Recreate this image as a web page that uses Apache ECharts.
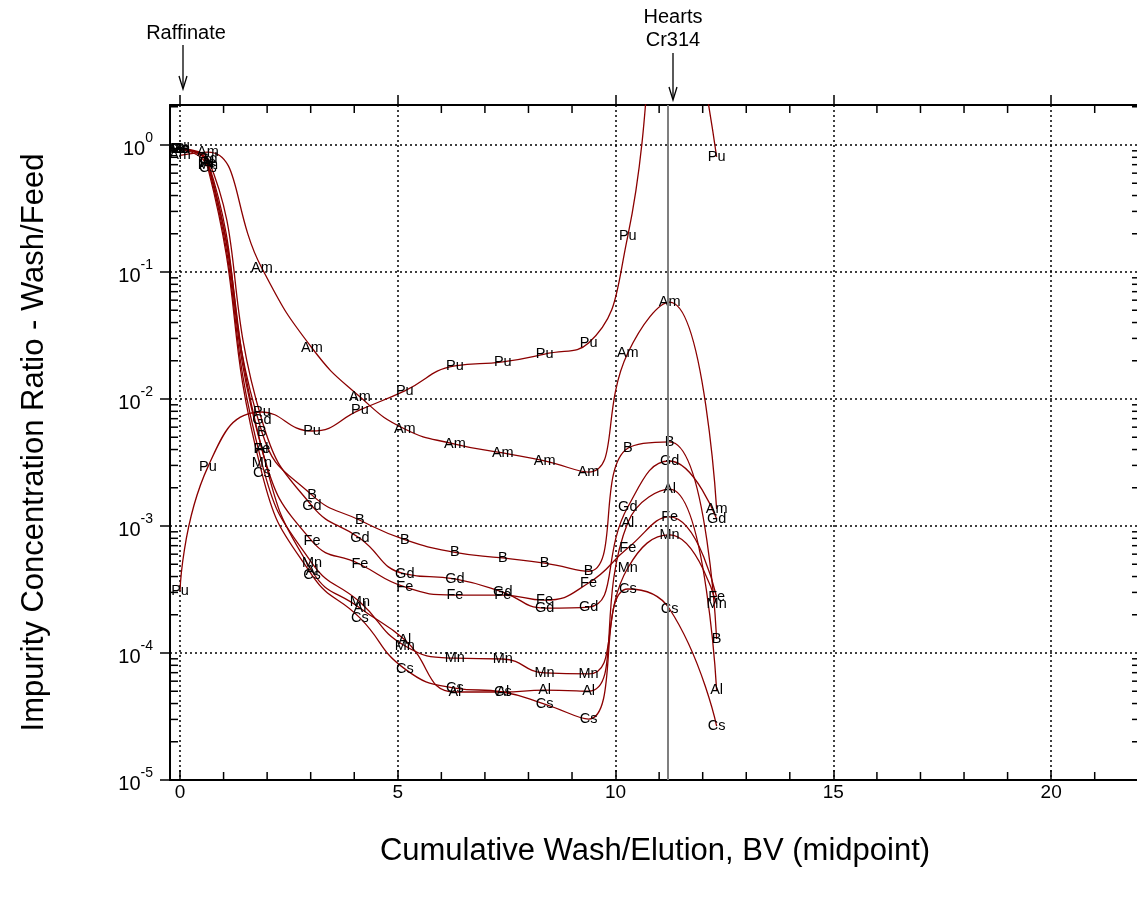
<!DOCTYPE html>
<html><head><meta charset="utf-8">
<script src="https://cdn.jsdelivr.net/npm/echarts@6/dist/echarts.min.js"></script>
<style>html,body{margin:0;padding:0;background:#fff}#c{width:1137px;height:900px}</style>
</head><body><div id="c"></div>
<script>
// Cumulative wash/elution (BV, midpoint) for each sample
const xBV = [0, 0.64, 1.88, 3.03, 4.13, 5.16, 6.31, 7.41, 8.37, 9.38, 10.28, 11.24, 12.32];
// Impurity concentration ratio (wash/feed) per element
const Pu = [3.08e-4, 2.92e-3, 7.9e-3, 5.6e-3, 8.2e-3, 1.16e-2, 1.82e-2, 1.96e-2, 2.26e-2, 2.76e-2, 0.192, 30, 0.805];
const Am = [0.83, 0.88, 0.107, 0.0252, 0.0104, 5.8e-3, 4.42e-3, 3.76e-3, 3.25e-3, 2.66e-3, 0.023, 0.058, 1.36e-3];
const B  = [0.93, 0.74, 5.5e-3, 1.75e-3, 1.11e-3, 7.8e-4, 6.2e-4, 5.6e-4, 5.1e-4, 4.4e-4, 4.1e-3, 4.6e-3, 1.29e-4];
const Gd = [0.93, 0.78, 6.8e-3, 1.44e-3, 8.0e-4, 4.2e-4, 3.83e-4, 3.02e-4, 2.26e-4, 2.30e-4, 1.41e-3, 3.25e-3, 1.14e-3];
const Fe = [0.93, 0.72, 4.04e-3, 7.6e-4, 5.0e-4, 3.31e-4, 2.86e-4, 2.86e-4, 2.61e-4, 3.56e-4, 6.7e-4, 1.18e-3, 2.76e-4];
const Mn = [0.93, 0.70, 3.13e-3, 5.1e-4, 2.52e-4, 1.14e-4, 9.1e-5, 8.97e-5, 6.97e-5, 6.84e-5, 4.67e-4, 8.5e-4, 2.43e-4];
const Al = [0.93, 0.72, 4.04e-3, 4.42e-4, 2.26e-4, 1.27e-4, 4.93e-5, 4.93e-5, 5.1e-5, 5.0e-5, 1.06e-3, 1.95e-3, 5.1e-5];
const Cs = [0.93, 0.66, 2.61e-3, 4.11e-4, 1.89e-4, 7.5e-5, 5.3e-5, 4.93e-5, 3.96e-5, 3.02e-5, 3.19e-4, 2.22e-4, 2.66e-5];
const seriesNames = ['Pu', 'Am', 'B', 'Gd', 'Fe', 'Mn', 'Al', 'Cs'];
const seriesValues = [Pu, Am, B, Gd, Fe, Mn, Al, Cs];
// Axis ticks
const xTicks = [0, 5, 10, 15, 20];
const yTicks = [1e-5, 1e-4, 1e-3, 1e-2, 1e-1, 1];
const heartsX = 11.19;

const FONT = '"Liberation Sans", Arial, sans-serif';
const LINE = '#8b0000';

const chart = echarts.init(document.getElementById('c'), null, {renderer: 'canvas'});

// minor tick values (axis decoration)
const minorData = [];
for (let i = 1; i <= 22; i++) if (i % 5) minorData.push([i, 1, 0]);
for (let e = -5; e <= 0; e++) for (let k = 2; k <= 9; k++) {
  const v = k * Math.pow(10, e);
  if (v < 2.06) minorData.push([1, v, 1]);
}

const series = seriesNames.map((name, i) => ({
  name, type: 'line', smooth: 0.5,
  data: xBV.map((x, j) => [x, seriesValues[i][j]]),
  symbol: 'circle', symbolSize: 4,
  itemStyle: {color: 'rgba(0,0,0,0)', borderWidth: 0},
  lineStyle: {color: LINE, width: 1.3},
  label: {show: true, position: 'inside', formatter: name, color: '#000', fontSize: 14.5, fontFamily: FONT},
  emphasis: {disabled: true},
  clip: true, z: 3,
  markLine: i === 0 ? {
    silent: true, symbol: 'none', label: {show: false},
    lineStyle: {color: '#7f7f7f', width: 2, type: 'solid'},
    data: [{xAxis: heartsX}]
  } : undefined
}));

series.push({
  type: 'custom', silent: true, z: 2,
  data: minorData,
  encode: {x: 0, y: 1},
  renderItem: function (params, api) {
    const cs = params.coordSys;
    const kind = api.value(2);
    const st = {stroke: '#000', lineWidth: 1.5};
    const L = 8;
    if (kind === 0) {
      const px = api.coord([api.value(0), 1])[0];
      return {type: 'group', children: [
        {type: 'line', shape: {x1: px, y1: cs.y + cs.height, x2: px, y2: cs.y + cs.height - L}, style: st},
        {type: 'line', shape: {x1: px, y1: cs.y, x2: px, y2: cs.y + L}, style: st}
      ]};
    }
    const py = api.coord([1, api.value(1)])[1];
    return {type: 'group', children: [
      {type: 'line', shape: {x1: cs.x, y1: py, x2: cs.x + L, y2: py}, style: st},
      {type: 'line', shape: {x1: cs.x + cs.width, y1: py, x2: cs.x + cs.width - L, y2: py}, style: st}
    ]};
  }
});

const axisLineStyle = {color: '#000', width: 2};
const option = {
  backgroundColor: '#fff',
  animation: false,
  grid: {left: 170, top: 105, right: -3, bottom: 120, outerBoundsMode: 'none', containLabel: false},
  xAxis: [{
    type: 'value', position: 'bottom', min: -0.23, max: 22.04,
    axisLine: {show: true, onZero: false, lineStyle: axisLineStyle},
    axisTick: {show: true, inside: true, length: 10, lineStyle: {color: '#000', width: 1.5}, customValues: xTicks},
    axisLabel: {customValues: xTicks, color: '#000', fontSize: 19, fontFamily: FONT, margin: 3},
    splitLine: {show: true, lineStyle: {color: '#000', type: [2, 3], width: 1.5}},
    name: 'Cumulative Wash/Elution, BV (midpoint)', nameLocation: 'middle', nameGap: 56,
    nameTextStyle: {color: '#000', fontSize: 31, fontFamily: FONT}
  }, {
    type: 'value', position: 'top', min: -0.23, max: 22.04,
    axisLine: {show: true, onZero: false, lineStyle: axisLineStyle},
    axisTick: {show: true, inside: false, length: 10, lineStyle: {color: '#000', width: 1.5}, customValues: xTicks},
    axisLabel: {show: false, customValues: xTicks},
    splitLine: {show: false}
  }],
  yAxis: [{
    type: 'log', logBase: 10, min: 1e-5, max: 2.065, position: 'left',
    axisLine: {show: true, onZero: false, lineStyle: axisLineStyle},
    axisTick: {show: true, inside: false, length: 10, lineStyle: {color: '#000', width: 1.5}, customValues: yTicks},
    axisLabel: {
      customValues: yTicks, margin: 17, color: '#000', fontFamily: FONT,
      formatter: function (v) { const e = Math.round(Math.log10(v)); return '{b|10}{s|' + e + '}'; },
      rich: {
        b: {fontSize: 20, fontFamily: FONT, color: '#000', lineHeight: 28, verticalAlign: 'bottom'},
        s: {fontSize: 14, fontFamily: FONT, color: '#000', lineHeight: 28, verticalAlign: 'top'}
      }
    },
    splitLine: {show: true, lineStyle: {color: '#000', type: [2, 3], width: 1.5}},
    name: 'Impurity Concentration Ratio - Wash/Feed', nameLocation: 'middle', nameGap: 120,
    nameTextStyle: {color: '#000', fontSize: 31, fontFamily: FONT}
  }],
  graphic: [
    {type: 'text', x: 186, y: 33, style: {text: 'Raffinate', align: 'center', verticalAlign: 'middle', fontSize: 20, fontFamily: FONT, fill: '#000'}},
    {type: 'line', shape: {x1: 183, y1: 45, x2: 183, y2: 88}, style: {stroke: '#000', lineWidth: 1.3}},
    {type: 'polyline', shape: {points: [[179, 76], [183, 89], [187, 76]]}, style: {stroke: '#000', lineWidth: 1.3, fill: null}},
    {type: 'text', x: 673, y: 17, style: {text: 'Hearts', align: 'center', verticalAlign: 'middle', fontSize: 20, fontFamily: FONT, fill: '#000'}},
    {type: 'text', x: 673, y: 40, style: {text: 'Cr314', align: 'center', verticalAlign: 'middle', fontSize: 20, fontFamily: FONT, fill: '#000'}},
    {type: 'line', shape: {x1: 673, y1: 53, x2: 673, y2: 99}, style: {stroke: '#000', lineWidth: 1.3}},
    {type: 'polyline', shape: {points: [[669, 87], [673, 100], [677, 87]]}, style: {stroke: '#000', lineWidth: 1.3, fill: null}}
  ],
  series
};
chart.setOption(option);
</script></body></html>
